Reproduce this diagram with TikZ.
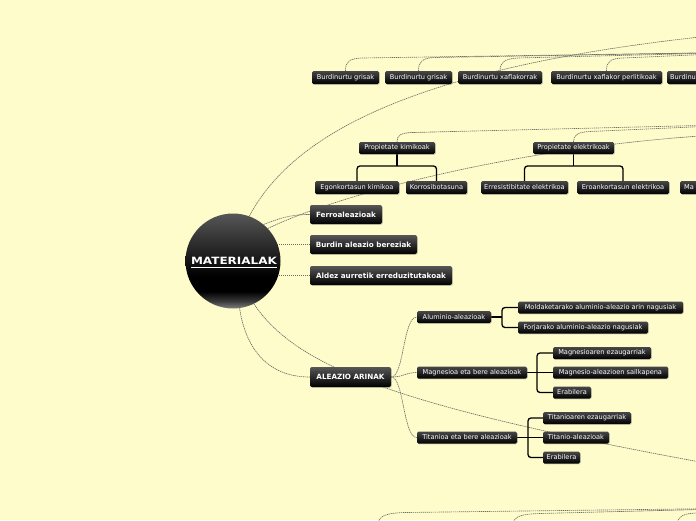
\documentclass[tikz,border=0pt]{standalone}
\usepackage{fontspec}
\setmainfont{DejaVu Sans}
\usetikzlibrary{shadows}
\definecolor{bgc}{HTML}{FFFCCB}
\definecolor{conc}{HTML}{6E6E66}
\pgfdeclarelayer{bg}
\pgfsetlayers{bg,main}
\pgfdeclareverticalshading{ballshade}{100bp}{color(0bp)=(black!50); color(25bp)=(black!50); color(29bp)=(black!78); color(34bp)=(black); color(42bp)=(black); color(75bp)=(black!66); color(100bp)=(black!66)}
\tikzset{
  sm/.style={rounded corners=1.5pt, top color=black!72, bottom color=black, text=white,
    font=\fontsize{6.6}{7}\selectfont, inner sep=0pt,
    drop shadow={opacity=0.35, shadow xshift=0.8pt, shadow yshift=-0.8pt}},
  mn/.style={sm, rounded corners=2pt, top color=black!66, font=\fontsize{7.2}{8}\bfseries\selectfont},
  conn/.style={draw=conc, line width=0.65pt, dash pattern=on 1.3pt off 0.7pt},
  tree/.style={draw=black, line width=1.3pt, rounded corners=3pt},
}
\begin{document}
\begin{tikzpicture}[x=1pt,y=-1pt]
\useasboundingbox (0,0) rectangle (696,520);
\begin{scope}
\clip (0,0) rectangle (696,520);
% root
\node[circle, minimum size=95pt, inner sep=0pt, shading=ballshade] (root) at (233,261) {};
\node[text=white, inner sep=0pt, font=\fontsize{10}{10}\bfseries\selectfont] (rt) at (234,261) {\scalebox{1.2}[1]{MATERIALAK}};
\draw[white, line width=1pt] (191,267) -- (277,267);
% main branches
\node[mn, minimum width=72pt, minimum height=19pt] (fe) at (346,214.5) {Ferroaleazioak};
\node[mn, minimum width=107pt, minimum height=19pt] (bu) at (363.5,244.5) {Burdin aleazio bereziak};
\node[mn, minimum width=142pt, minimum height=19pt] (ad) at (381,275.5) {Aldez aurretik erreduzitutakoak};
\node[mn, minimum width=81pt, minimum height=20pt] (aa) at (350.5,377) {ALEAZIO ARINAK};
% top row
\node[sm, minimum width=67pt, minimum height=13pt] (b1) at (345.5,77.5) {Burdinurtu grisak};
\node[sm, minimum width=67pt, minimum height=13pt] (b2) at (418.5,77.5) {Burdinurtu grisak};
\node[sm, minimum width=84pt, minimum height=13pt] (b3) at (500,77.5) {Burdinurtu xaflakorrak};
\node[sm, minimum width=111pt, minimum height=13pt] (b4) at (606.5,77.5) {Burdinurtu xaflakor perlitikoak};
\node[sm, minimum width=58pt, minimum height=13pt, anchor=west, text width=52pt, align=left] (b5) at (667,77.5) {Burdinu};
% properties
\node[sm, minimum width=76pt, minimum height=12pt] (pk) at (397,148) {Propietate kimikoak};
\node[sm, minimum width=81pt, minimum height=12pt] (pe) at (573.5,148) {Propietate elektrikoak};
\node[sm, minimum width=84pt, minimum height=13pt] (ek) at (357,187.5) {Egonkortasun kimikoa};
\node[sm, minimum width=61pt, minimum height=13pt] (ko) at (436.5,187.5) {Korrosibotasuna};
\node[sm, minimum width=87pt, minimum height=13pt] (ee) at (524.5,187.5) {Erresistibitate elektrikoa};
\node[sm, minimum width=92pt, minimum height=13pt] (ea) at (623,187.5) {Eroankortasun elektrikoa};
\node[sm, minimum width=40pt, minimum height=13pt, anchor=west, text width=32pt, align=left] (ma) at (680,187.5) {Ma};
% light alloys
\node[sm, minimum width=74pt, minimum height=12pt] (al) at (454,317) {Aluminio-aleazioak};
\node[sm, minimum width=110pt, minimum height=12pt] (mg) at (472,372.5) {Magnesioa eta bere aleazioak};
\node[sm, minimum width=100pt, minimum height=12pt] (ti) at (467,437.5) {Titanioa eta bere aleazioak};
\node[sm, minimum width=165pt, minimum height=12pt] (al1) at (600.5,307.5) {Moldaketarako aluminio-aleazio arin nagusiak};
\node[sm, minimum width=130pt, minimum height=12pt] (al2) at (583,327.5) {Forjarako aluminio-aleazio nagusiak};
\node[sm, minimum width=98pt, minimum height=12pt] (mg1) at (602,353) {Magnesioaren ezaugarriak};
\node[sm, minimum width=115pt, minimum height=12pt] (mg2) at (610.5,372.5) {Magnesio-aleazioen sailkapena};
\node[sm, minimum width=38pt, minimum height=12pt] (mg3) at (572,392.5) {Erabilera};
\node[sm, minimum width=88pt, minimum height=12pt] (ti1) at (587,418) {Titanioaren ezaugarriak};
\node[sm, minimum width=66pt, minimum height=12pt] (ti2) at (576,437.5) {Titanio-aleazioak};
\node[sm, minimum width=37pt, minimum height=12pt] (ti3) at (561.5,457.5) {Erabilera};
% off-canvas ends
\coordinate (topA) at (700,37);
\coordinate (midA) at (700,136);
\coordinate (lowA) at (700,462);
\coordinate (burP) at (760,52);
\coordinate (propP) at (760,124);
\coordinate (botP) at (760,508);
\coordinate (bc1) at (378,524);
\coordinate (bc2) at (513,524);
\coordinate (bc3) at (677,524);
\coordinate (pkj) at (397,166);
\coordinate (pej) at (573.5,166);
\coordinate (alj) at (502,317);
\coordinate (mgj) at (537,372.5);
\coordinate (tij) at (528,437.5);
\end{scope}
\begin{pgfonlayer}{bg}
\fill[bgc] (0,0) rectangle (696,520);
\clip (0,0) rectangle (696,520);
% from root
\draw[conn] (root.70) .. controls (290,140) and (400,70) .. (topA);
\draw[conn] (root.50) .. controls (285,216) and (295,214.5) .. (fe.west);
\draw[conn] (root.43) .. controls (330,198) and (500,150) .. (midA);
\draw[conn] (root.center |- bu.west) -- (bu.west);
\draw[conn] (root.center |- ad.west) -- (ad.west);
\draw[conn] (root.-82) .. controls (245,345) and (265,377) .. (aa.west);
\draw[conn] (root.-64) .. controls (295,365) and (390,405) .. (lowA);
% top row links
\draw[conn] (b1.north) .. controls (345.5,61) and (350,58.5) .. (362,58) -- (burP);
\draw[conn] (b2.north) .. controls (418.5,61) and (423,58) .. (435,57.5) -- (burP);
\draw[conn] (b3.north) .. controls (500,62) and (505,59) .. (517,58) -- (burP);
\draw[conn] (b4.north) .. controls (606.5,61) and (611,58.5) .. (623,58) -- (burP);
% properties links
\draw[conn] (pk.north) .. controls (397,135) and (401,133) .. (412,132.5) -- (propP);
\draw[conn] (pe.north) .. controls (573.5,135) and (578,132) .. (590,131.5) -- (propP);
% bottom links
\draw[conn] (bc1) .. controls (379,515) and (388,513) .. (405,512.5) -- (botP);
\draw[conn] (bc2) .. controls (514,516) and (522,514) .. (540,513.5) -- (botP);
\draw[conn] (bc3) .. controls (678,516) and (684,513.5) .. (696,513) -- (botP);
% light alloy links
\draw[conn] (aa.east) .. controls (404,377) and (403,317) .. (al.west);
\draw[conn] (aa.east) .. controls (404,377) and (405,372.5) .. (mg.west);
\draw[conn] (aa.east) .. controls (404,377) and (403,437.5) .. (ti.west);
% tree brackets
\draw[tree] (pk.south) -- (pkj);
\draw[tree] (ek.north) |- (pkj) -| (ko.north);
\draw[tree] (pe.south) -- (pej);
\draw[tree] (ee.north) |- (pej) -| (ea.north);
\draw[tree] (al.east) -- (alj);
\draw[tree] (al1.west) -| (alj) |- (al2.west);
\draw[tree] (mg.east) -- (mg2.west);
\draw[tree] (mg1.west) -| (mgj) |- (mg3.west);
\draw[tree] (ti.east) -- (ti2.west);
\draw[tree] (ti1.west) -| (tij) |- (ti3.west);
\end{pgfonlayer}
\end{tikzpicture}
\end{document}
